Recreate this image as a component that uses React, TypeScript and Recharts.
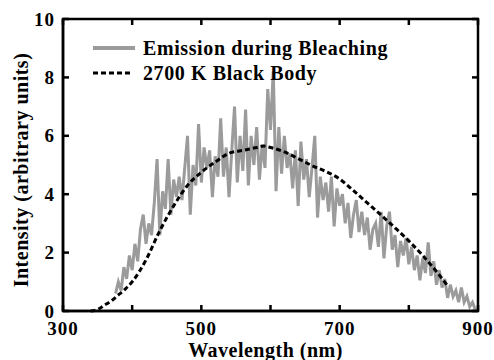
import React from "react";
import { LineChart, Line, XAxis, YAxis, Label } from "recharts";

// Emission spectrum during bleaching (gray, noisy)
const emissionWl = [
  376, 380, 384, 388, 392, 396, 400, 404, 408, 412, 416, 420, 424, 428, 432, 436, 440, 444, 448, 452,
  456, 460, 464, 468, 472, 476, 480, 484, 488, 492, 496, 500, 504, 508, 512, 516, 520, 524, 528, 532,
  536, 540, 544, 548, 552, 556, 560, 564, 568, 572, 576, 580, 584, 588, 592, 596, 600, 604, 608, 612,
  616, 620, 624, 628, 632, 636, 640, 644, 648, 652, 656, 660, 664, 668, 672, 676, 680, 684, 688, 692,
  696, 700, 704, 708, 712, 716, 720, 724, 728, 732, 736, 740, 744, 748, 752, 756, 760, 764, 768, 772,
  776, 780, 784, 788, 792, 796, 800, 804, 808, 812, 816, 820, 824, 828, 832, 836, 840, 844, 848, 852,
  856, 860, 864, 868, 872, 876, 880, 884, 888, 892, 896,
];
const emissionVal = [
  0.6, 1.0, 0.7, 1.5, 1.1, 1.9, 1.4, 2.3, 1.7, 2.8, 3.3, 2.3, 3.0, 2.6, 3.7, 5.2, 2.6, 4.1, 3.5, 5.2,
  3.3, 4.5, 3.9, 4.6, 3.8, 4.9, 6.0, 3.3, 5.0, 4.3, 6.4, 4.4, 5.6, 4.9, 5.5, 3.9, 5.3, 4.6, 6.6, 4.6,
  5.6, 3.9, 5.5, 7.0, 4.4, 6.0, 4.8, 6.9, 4.3, 6.0, 5.0, 6.3, 4.5, 5.7, 4.9, 7.6, 6.2, 8.2, 4.1, 6.3,
  4.7, 6.0, 4.9, 5.4, 4.2, 5.5, 3.6, 5.8, 4.5, 5.2, 3.9, 4.9, 6.0, 3.2, 4.6, 3.8, 4.4, 3.4, 4.6, 2.9,
  4.2, 3.6, 4.0, 3.0, 3.7, 2.5, 3.3, 3.8, 2.7, 3.4, 2.6, 3.2, 2.1, 2.8, 3.0, 2.2, 3.4, 1.8, 2.9, 3.4,
  2.1, 2.6, 1.5, 2.4, 1.9, 2.5, 1.6, 2.2, 1.4, 1.9, 1.05, 1.8, 1.3, 2.35, 1.2, 1.7, 0.9, 1.4, 0.8, 1.1,
  0.45, 0.9, 0.5, 0.7, 0.3, 0.8, 0.3, 0.5, 0.15, 0.3, 0.05,
];

// 2700 K black body curve (dashed)
const bodyWl = [340, 350, 360, 370, 380, 390, 400, 420, 440, 460, 480, 500, 520, 540, 560, 580, 590, 600, 620, 640, 660, 680, 700, 720, 740, 760, 780, 800, 820, 840, 855];
const bodyVal = [0, 0.05, 0.2, 0.35, 0.55, 0.75, 1.0, 1.75, 2.75, 3.6, 4.3, 4.75, 5.1, 5.4, 5.5, 5.6, 5.65, 5.6, 5.45, 5.22, 4.98, 4.78, 4.52, 4.12, 3.7, 3.28, 2.85, 2.4, 1.9, 1.35, 0.9];

const xTicks = [300, 400, 500, 600, 700, 800, 900];
const xLabeled = [300, 500, 700, 900];
const yTicks = [0, 2, 4, 6, 8, 10];
const X_DOMAIN = [300, 900];
const Y_DOMAIN = [0, 10];

const emission = emissionWl.map((wl, i) => ({ wl, v: emissionVal[i] }));
const body = bodyWl.map((wl, i) => ({ wl, v: bodyVal[i] }));

// layout
const W = 494;
const H = 360;
const M = { top: 19, right: 16, bottom: 0, left: 21 };
const Y_AXIS_W = 42;
const X_AXIS_H = 49;
const PLOT_X = M.left + Y_AXIS_W;
const PLOT_Y = M.top;
const PLOT_W = W - M.left - M.right - Y_AXIS_W;
const PLOT_H = H - M.top - M.bottom - X_AXIS_H;
const TICK = 6;

const FONT = "'Liberation Serif', 'Times New Roman', serif";
const GRAY = "#9b9b9b";
const tickFont = { fill: "#000", fontSize: 19, fontWeight: "bold", fontFamily: FONT, letterSpacing: 1 };
const titleFont = { fill: "#000", fontSize: 20, fontWeight: "bold", fontFamily: FONT, letterSpacing: 0.5 };
const lineStyle = { stroke: "#000", strokeWidth: 2.5 };

const XTick = (props: any) => {
  const { x, y, payload } = props;
  if (!xLabeled.includes(payload.value)) return <g />;
  return (
    <text x={x} y={y + 11} dy="0.71em" textAnchor="middle" {...tickFont}>
      {payload.value}
    </text>
  );
};

const YTick = (props: any) => {
  const { x, y, payload } = props;
  return (
    <text x={x - 8} y={y} dy="0.35em" textAnchor="end" {...tickFont}>
      {payload.value}
    </text>
  );
};

// box frame with inward ticks on all four sides, laid over the plot area
const Frame = () => {
  const px = (v: number) => PLOT_X + ((v - X_DOMAIN[0]) / (X_DOMAIN[1] - X_DOMAIN[0])) * PLOT_W;
  const py = (v: number) => PLOT_Y + PLOT_H - ((v - Y_DOMAIN[0]) / (Y_DOMAIN[1] - Y_DOMAIN[0])) * PLOT_H;
  const bottom = PLOT_Y + PLOT_H;
  const right = PLOT_X + PLOT_W;
  return (
    <svg width={W} height={H} style={{ position: "absolute", left: 0, top: 0, pointerEvents: "none" }}>
      <rect x={PLOT_X} y={PLOT_Y} width={PLOT_W} height={PLOT_H} fill="none" {...lineStyle} />
      {xTicks.map((t) => (
        <g key={"x" + t}>
          <line x1={px(t)} x2={px(t)} y1={bottom} y2={bottom - TICK} {...lineStyle} />
          <line x1={px(t)} x2={px(t)} y1={PLOT_Y} y2={PLOT_Y + TICK} {...lineStyle} />
        </g>
      ))}
      {yTicks.map((t) => (
        <g key={"y" + t}>
          <line x1={PLOT_X} x2={PLOT_X + TICK} y1={py(t)} y2={py(t)} {...lineStyle} />
          <line x1={right} x2={right - TICK} y1={py(t)} y2={py(t)} {...lineStyle} />
        </g>
      ))}
    </svg>
  );
};

const LegendBox = () => (
  <div
    style={{
      position: "absolute",
      left: 93,
      top: 36,
      fontFamily: FONT,
      fontWeight: "bold",
      fontSize: 20,
      letterSpacing: 0.6,
      color: "#000",
      lineHeight: "25px",
    }}
  >
    <div style={{ display: "flex", alignItems: "center", height: 25 }}>
      <svg width={50} height={25}>
        <line x1={0} x2={42} y1={12} y2={12} stroke={GRAY} strokeWidth={4} />
      </svg>
      <span>Emission during Bleaching</span>
    </div>
    <div style={{ display: "flex", alignItems: "center", height: 25 }}>
      <svg width={50} height={25}>
        <line x1={0} x2={40} y1={12} y2={12} stroke="#000" strokeWidth={3} strokeDasharray="5 3" />
      </svg>
      <span>2700 K Black Body</span>
    </div>
  </div>
);

export default function App() {
  return (
    <div style={{ position: "absolute", left: 0, top: 0, width: W, height: H, background: "#fff" }}>
      <LineChart width={W} height={H} margin={M}>
        <XAxis
          dataKey="wl"
          type="number"
          domain={X_DOMAIN}
          ticks={xTicks}
          height={X_AXIS_H}
          tickSize={0}
          tickMargin={0}
          axisLine={lineStyle}
          tickLine={false}
          tick={<XTick />}
          interval={0}
        >
          <Label value="Wavelength (nm)" position="insideBottom" offset={2} dx={-5} dy={-1} style={titleFont} />
        </XAxis>
        <YAxis
          type="number"
          domain={Y_DOMAIN}
          ticks={yTicks}
          width={Y_AXIS_W}
          tickSize={0}
          tickMargin={0}
          axisLine={lineStyle}
          tickLine={false}
          tick={<YTick />}
          interval={0}
        >
          <Label
            value="Intensity (arbitrary units)"
            angle={-90}
            position="insideLeft"
            offset={0}
            dy={5}
            style={{ ...titleFont, textAnchor: "middle" }}
          />
        </YAxis>
        <Line
          data={emission}
          dataKey="v"
          type="linear"
          stroke={GRAY}
          strokeWidth={3}
          dot={false}
          isAnimationActive={false}
        />
        <Line
          data={body}
          dataKey="v"
          type="monotone"
          stroke="#000"
          strokeWidth={3}
          strokeDasharray="5 3"
          dot={false}
          isAnimationActive={false}
        />
      </LineChart>
      <Frame />
      <LegendBox />
    </div>
  );
}
